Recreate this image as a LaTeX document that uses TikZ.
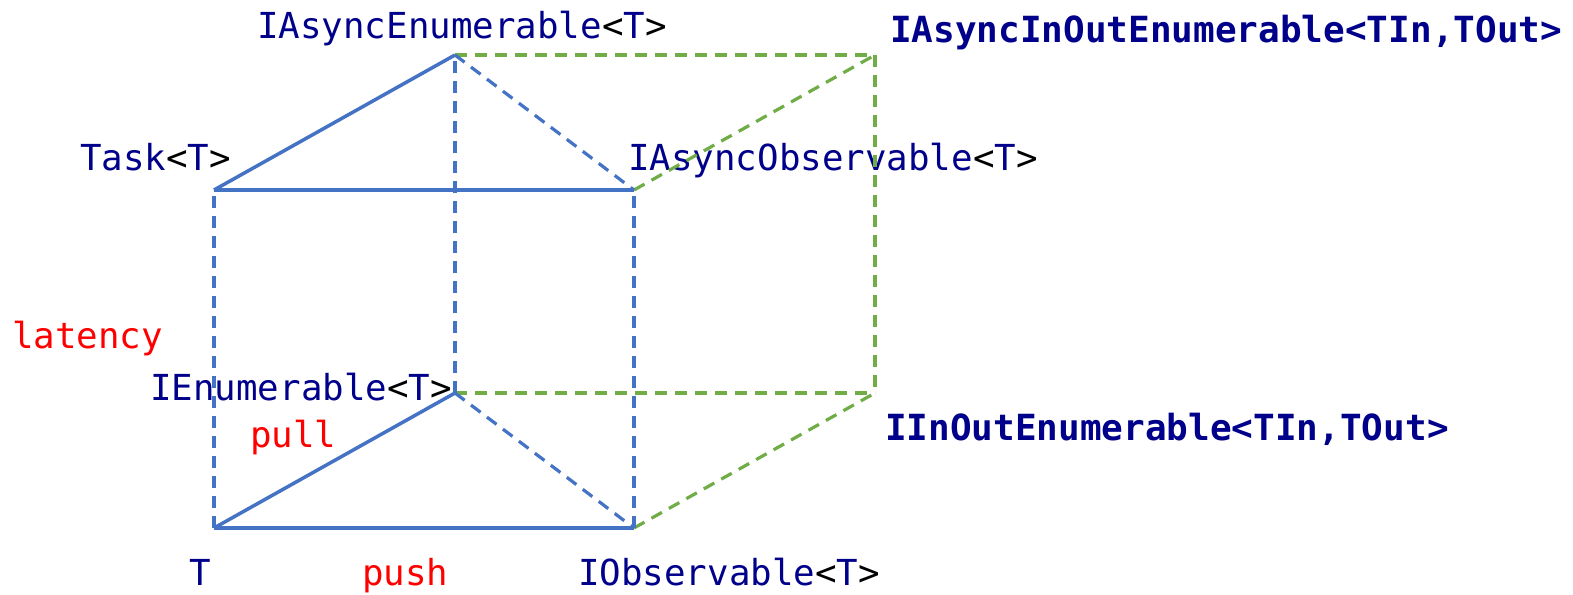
\documentclass[tikz,border=0pt]{standalone}
\usepackage{fontspec}
\setmonofont{DejaVu Sans Mono}
\usepackage{tikz}
\usetikzlibrary{positioning}
\usepackage{xcolor}
\definecolor{cBlue}{RGB}{68,114,196}
\definecolor{cGreen}{RGB}{112,173,71}
\definecolor{cNavy}{RGB}{0,0,139}
\definecolor{cRed}{RGB}{255,0,0}
\newcommand{\tyarg}[1]{\textcolor{black}{<}#1\textcolor{black}{>}}
\tikzset{
  baselbl/.style={inner sep=0pt,anchor=base west,
                  font=\ttfamily\fontsize{35.8}{40}\selectfont},
  typelbl/.style={baselbl,text=cNavy},
  boldlbl/.style={baselbl,text=cNavy,font=\ttfamily\bfseries\fontsize{36}{40}\selectfont},
  notelbl/.style={baselbl,text=cRed},
  edge/.style={cBlue,line width=3.5pt},
  dashedge/.style={cBlue,line width=3.2pt,dash pattern=on 12pt off 8pt},
  greenedge/.style={cGreen,line width=3.2pt,dash pattern=on 12pt off 8pt}
}

\begin{document}
\begin{tikzpicture}[x=1pt,y=-1pt]
  \useasboundingbox (0,0) rectangle (1573,594);

  % corners of the cube
  \coordinate (t)      at (214,528);
  \coordinate (obs)    at (634,528);
  \coordinate (enum)   at (455,393);
  \coordinate (task)   at (214,190);
  \coordinate (aobs)   at (634,190);
  \coordinate (aenum)  at (455,55);
  \coordinate (aioenum) at (875,55);
  \coordinate (ioenum) at (875,393);

  % labels
  \node[typelbl] (laenum) at (257,38) {IAsyncEnumerable\tyarg{T}};
  \node[typelbl] (ltask)  at (80,170) {Task\tyarg{T}};
  \node[typelbl] (laobs)  at (628,170) {IAsyncObservable\tyarg{T}};
  \node[boldlbl] (laio)   at (890,43) {IAsyncInOutEnumerable<TIn,TOut>};
  \node[typelbl] (lenum)  at (150,400) {IEnumerable\tyarg{T}};
  \node[boldlbl] (lio)    at (885,440) {IInOutEnumerable<TIn,TOut>};
  \node[typelbl] (lt)     at (189,585) {T};
  \node[typelbl] (lobs)   at (578,585) {IObservable\tyarg{T}};
  \node[notelbl] (latency) at (12,348) {latency};
  \node[notelbl] (pull)   at (250,447) {pull};
  \node[notelbl] (push)   at (362,585) {push};

  % green (in/out) edges
  \draw[greenedge] (aenum) -- (aioenum);
  \draw[greenedge] (aobs) -- (aioenum);
  \draw[greenedge] (aioenum) -- (ioenum);
  \draw[greenedge] (enum) -- (ioenum);
  \draw[greenedge] (obs) -- (ioenum);

  % dashed blue edges
  \draw[dashedge] (t) -- (task);
  \draw[dashedge] (obs) -- (aobs);
  \draw[dashedge] (enum) -- (aenum);
  \draw[dashedge] (enum) -- (obs);
  \draw[dashedge] (aenum) -- (aobs);

  % solid blue edges
  \draw[edge] (t) -- (obs);
  \draw[edge] (t) -- (enum);
  \draw[edge] (task) -- (aobs);
  \draw[edge] (task) -- (aenum);

\end{tikzpicture}
\end{document}
